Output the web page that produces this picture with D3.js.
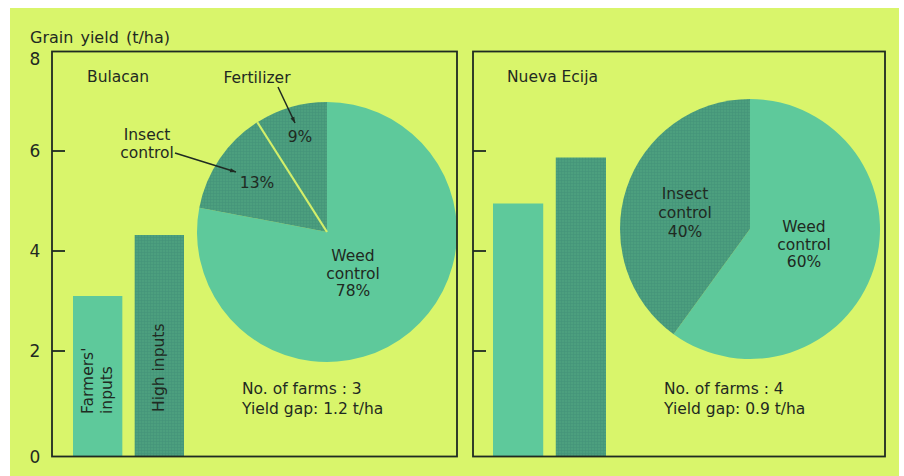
<!DOCTYPE html>
<html><head><meta charset="utf-8">
<script src="https://cdn.jsdelivr.net/npm/d3@7"></script>
<style>
body{margin:0;background:#fff;}
svg{display:block;font-family:"DejaVu Sans",sans-serif;}
</style></head>
<body>
<svg id="c" width="904" height="476"></svg>
<script>
// ---- data ----
const categories = ["Farmers' inputs", "High inputs"];
const provinces = ["Bulacan", "Nueva Ecija"];
const yieldBulacan = [3.1, 4.32];
const yieldNuevaEcija = [4.95, 5.87];
const pieLabelsBulacan = ["Weed control", "Insect control", "Fertilizer"];
const pieValuesBulacan = [78, 13, 9];
const pieLabelsNueva = ["Weed control", "Insect control"];
const pieValuesNueva = [60, 40];
const farms = [3, 4];
const yieldGap = ["1.2", "0.9"];
const yTicks = [0, 2, 4, 6, 8];

const svg = d3.select("#c");
const ink = "#1f2a22";
const bg = "#d9f56b";
const light = "#5ec99b";
const dark = "#4c9f7e";

const defs = svg.append("defs");
const pat = defs.append("pattern").attr("id","hatch").attr("width",3).attr("height",3)
  .attr("patternUnits","userSpaceOnUse");
pat.append("rect").attr("width",3).attr("height",3).attr("fill",dark);
pat.append("rect").attr("width",3).attr("height",1).attr("fill","#45937a").attr("opacity",0.6);
pat.append("rect").attr("width",1).attr("height",3).attr("fill","#45937a").attr("opacity",0.6);
defs.append("marker").attr("id","arr").attr("viewBox","0 0 10 10").attr("refX",10).attr("refY",5)
  .attr("markerWidth",9).attr("markerHeight",6).attr("markerUnits","userSpaceOnUse").attr("orient","auto")
  .append("path").attr("d","M0,1.5 L10,5 L0,8.5 Z").attr("fill",ink);

// background
svg.append("rect").attr("x",10).attr("y",8).attr("width",889).attr("height",468).attr("fill",bg);

const y = d3.scaleLinear().domain([0,8]).range([451,51]);
const frameBottom = 456.5;

// y axis label
svg.append("text").attr("x",30).attr("y",43).attr("fill",ink).attr("font-size",16)
  .attr("word-spacing",2).text("Grain yield (t/ha)");

// tick labels
svg.selectAll(".yl").data(yTicks).join("text")
  .attr("x",35).attr("y",d=> d===0 ? 463 : (d===8 ? 65 : y(d)+6)).attr("text-anchor","middle")
  .attr("fill",ink).attr("font-size",17).text(d=>d);

const panels = [
  {x0:52, x1:457, bars:[73,184], data:yieldBulacan, name:provinces[0], pieC:[327,232], r:130,
   pieVals:pieValuesBulacan, pieLabs:pieLabelsBulacan, info:[242,389], idx:0},
  {x0:473, x1:885, bars:[493,606], data:yieldNuevaEcija, name:provinces[1], pieC:[750,229], r:130,
   pieVals:pieValuesNueva, pieLabs:pieLabelsNueva, info:[664,389], idx:1}
];

panels.forEach(p=>{
  const g = svg.append("g");
  const x = d3.scaleBand().domain(categories).range(p.bars).paddingInner(0.2);
  // bars
  g.selectAll("rect.bar").data(p.data).join("rect")
    .attr("x",(d,i)=>x(categories[i])).attr("width",x.bandwidth())
    .attr("y",d=>y(d)).attr("height",d=>frameBottom-y(d))
    .attr("fill",(d,i)=> i===0 ? light : "url(#hatch)");
  // pie
  const pie = d3.pie().sort(null).value(d=>d)(p.pieVals);
  const arc = d3.arc().innerRadius(0).outerRadius(p.r);
  const pg = g.append("g").attr("transform",`translate(${p.pieC})`);
  pg.selectAll("path").data(pie).join("path").attr("d",arc)
    .attr("fill",(d,i)=> i===0 ? light : "url(#hatch)");
  if (p.idx===0){
    const a = pie[1].endAngle;
    pg.append("line").attr("x1",0).attr("y1",0)
      .attr("x2",p.r*Math.sin(a)).attr("y2",-p.r*Math.cos(a))
      .attr("stroke","#d3ef6a").attr("stroke-width",2.2);
  }
  // frame
  g.append("rect").attr("x",p.x0).attr("y",51.5).attr("width",p.x1-p.x0).attr("height",frameBottom-51.5)
    .attr("fill","none").attr("stroke",ink).attr("stroke-width",1.8);
  // ticks
  g.selectAll("line.t").data(yTicks.filter(t=>t>0&&t<8)).join("line")
    .attr("x1",p.x0).attr("x2",p.x0+13).attr("y1",d=>y(d)).attr("y2",d=>y(d))
    .attr("stroke",ink).attr("stroke-width",1.8);
  // province
  g.append("text").attr("x",p.idx===0?87:507).attr("y",82).attr("fill",ink).attr("font-size",15.5).text(p.name);
  // info
  const it = g.append("text").attr("x",p.info[0]).attr("y",p.info[1]+5).attr("fill",ink).attr("font-size",15.5);
  it.append("tspan").attr("x",p.info[0]).text(`No. of farms : ${farms[p.idx]}`);
  it.append("tspan").attr("x",p.info[0]).attr("dy",19.5).text(`Yield gap: ${yieldGap[p.idx]} t/ha`);
});

// bar labels (Bulacan)
function rotText(xc, yb, lines){
  const t = svg.append("text").attr("transform",`translate(${xc},${yb}) rotate(-90)`)
    .attr("fill",ink).attr("font-size",15.5);
  lines.forEach((l,i)=> t.append("tspan").attr("x",0).attr("y",i*19).text(l));
}
rotText(93, 414, ["Farmers'", "inputs"]);
rotText(164, 412, ["High inputs"]);

// pie labels
function label(x0,y0,lines,anchor="middle",lh=18){
  const t = svg.append("text").attr("fill",ink).attr("font-size",15.5).attr("text-anchor",anchor);
  lines.forEach((l,i)=> t.append("tspan").attr("x",x0).attr("y",y0+i*lh).text(l));
}
function pct(v){return v+"%";}
label(257,83,[pieLabelsBulacan[2]]);
label(300,142,[pct(pieValuesBulacan[2])]);
label(147,140,["Insect","control"],"middle",18);
label(257,188,[pct(pieValuesBulacan[1])]);
label(353,261,["Weed","control",pct(pieValuesBulacan[0])],"middle",17.5);
label(685,199,["Insect","control",pct(pieValuesNueva[1])],"middle",19);
label(804,232,["Weed","control",pct(pieValuesNueva[0])],"middle",17.5);

// arrows
svg.append("line").attr("x1",278).attr("y1",87).attr("x2",295).attr("y2",123)
  .attr("stroke",ink).attr("stroke-width",1.5).attr("marker-end","url(#arr)");
svg.append("line").attr("x1",175).attr("y1",153).attr("x2",236).attr("y2",172)
  .attr("stroke",ink).attr("stroke-width",1.5).attr("marker-end","url(#arr)");
</script>
</body></html>
